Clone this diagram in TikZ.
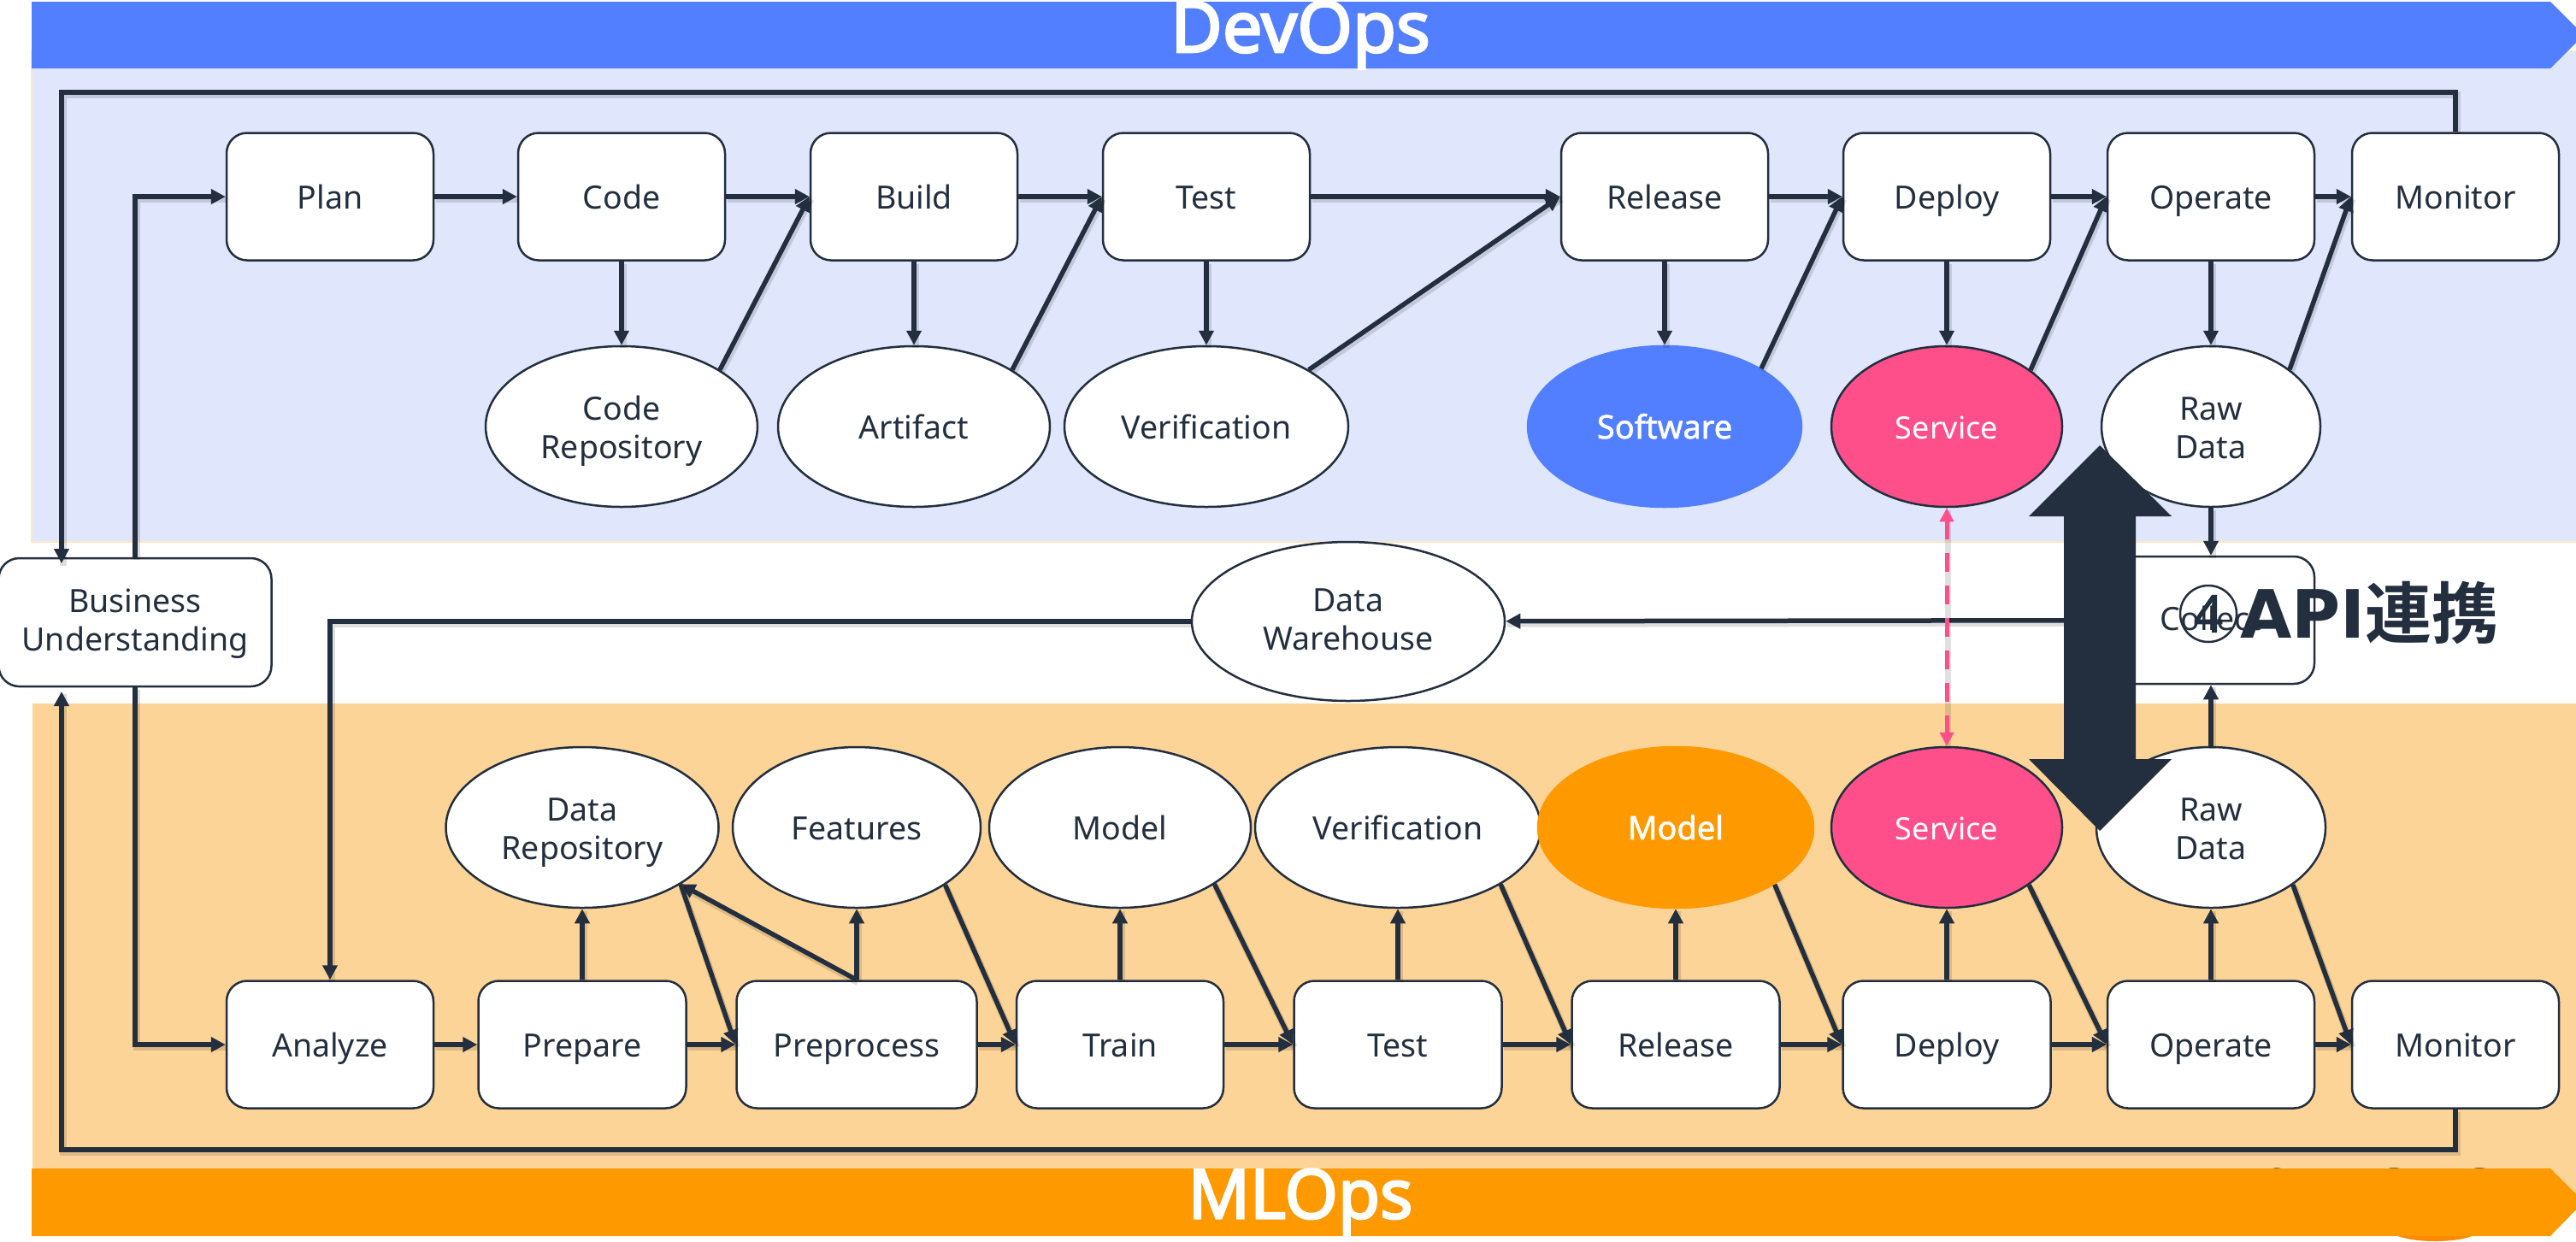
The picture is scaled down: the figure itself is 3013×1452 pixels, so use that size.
\documentclass[tikz,border=0pt]{standalone}
\usepackage{fontspec}
\setmainfont{Noto Sans}
\newfontfamily\nsb{Noto Sans}[FakeBold=1.6]
\newfontfamily\nsbb{Noto Sans}[FakeBold=3]
\newfontfamily\cjkf[BoldFont=Noto Sans CJK JP Bold]{Noto Sans CJK JP}
\newfontfamily\apif{DejaVu Sans}
\usetikzlibrary{arrows.meta,shapes.geometric}
\definecolor{ink}{HTML}{232F3E}
\definecolor{awsblue}{HTML}{527FFF}
\definecolor{awsorange}{HTML}{FF9900}
\definecolor{awspink}{HTML}{FF4F8B}
\definecolor{bandblue}{HTML}{E0E7FD}
\definecolor{bandorange}{HTML}{FDD497}
\newcommand\tsa{\rule{0pt}{40pt}}
\newcommand\tsc{\rule{0pt}{86pt}}
\newcommand\tsd{\rule{0pt}{83pt}}
\newcommand\tsb{\rule[-12pt]{0pt}{12pt}}
\newcommand\tsup{\rule[-17pt]{0pt}{17pt}}
\tikzset{
  x=1pt,y=-1pt,
  lbl/.style={font=\fontsize{37.5}{45}\selectfont,text=ink,align=center,inner sep=0pt,execute at begin node=\tsa,execute at end node=\tsb},
  twolines/.style={execute at begin node=\tsc},
  twolinesup/.style={execute at begin node=\tsd,execute at end node=\tsup},
  boxn/.style={lbl,draw=ink,line width=2.5pt,fill=white,rounded corners=24pt,minimum width=242pt,minimum height=149pt},
  ell/.style={lbl,ellipse,draw=ink,line width=2.5pt,fill=white,minimum height=188pt},
  conn/.style={draw=ink,line width=5.5pt,line join=miter,-{Triangle[length=17pt,width=17pt]},shorten >=0pt,
    preaction={draw=black,draw opacity=.13,line width=8pt,-,transform canvas={xshift=1.5pt,yshift=-3pt}}},
  pinkconn/.style={draw=awspink,line width=5pt,dash pattern=on 22pt off 16pt,{Triangle[length=16pt,width=16pt]}-{Triangle[length=16pt,width=16pt]},
    preaction={draw=black,draw opacity=.12,line width=7pt,-,transform canvas={xshift=1pt,yshift=-3pt}}},
  title/.style={text=white,inner sep=0pt},
}
\begin{document}
\begin{tikzpicture}
\useasboundingbox (0,0) rectangle (3013,1452);
\clip (0,0) rectangle (3013,1452);
% bands
\fill[bandblue,draw=bandorange!55,line width=2pt] (37,60) rectangle (3030,634);
\fill[bandorange] (38,823) rectangle (3030,1416);
\fill[awsorange!90!red] (2848,1440) ellipse (50 and 12);
\fill[ink!70!bandorange] (2663,1373) ellipse (10 and 7);
\fill[ink!70!bandorange] (2800,1373) ellipse (14 and 7);
\fill[ink!70!bandorange] (2900,1373) ellipse (14 and 7);
% banners
\fill[awsblue] (37,2) -- (2983,2) -- (3022,41) -- (2983,80) -- (37,80) -- cycle;
\fill[awsorange] (37,1367) -- (2983,1367) -- (3022,1406) -- (2983,1446) -- (37,1446) -- cycle;
\node[title,font=\nsbb\fontsize{83}{95}\selectfont] (devops) at (1521,41) {DevOps};
\node[title,font=\nsbb\fontsize{80}{95}\selectfont] (mlops) at (1521,1406) {MLOps};
% top row
\foreach \n/\t/\x in {plan/Plan/386,code/Code/727,build/Build/1069,test/Test/1411,release/Release/1947,deploy/Deploy/2277,operate/Operate/2586,monitor/Monitor/2872}
  \node[boxn] (\n) at (\x,230) {\t};
% top ellipses
\node[ell,twolines,minimum width=318pt] (coderepo) at (727,499) {Code\\Repository};
\node[ell,minimum width=318pt] (artifact) at (1069,499) {Artifact};
\node[ell,minimum width=332pt] (verif) at (1411,499) {Verification};
\node[ell,minimum width=320pt,fill=awsblue,draw=awsblue,text=white,font=\nsb\fontsize{38}{45}\selectfont] (software) at (1947,499) {Software};
\node[ell,minimum width=270pt,fill=awspink,text=white,font=\fontsize{36}{45}\selectfont] (service) at (2277,499) {Service};
\node[ell,twolines,minimum width=256pt] (raw) at (2586,499) {Raw\\Data};
% middle
\node[boxn,twolinesup,minimum width=319pt,minimum height=150pt] (bu) at (158,728) {Business\\Understanding};
\node[boxn,minimum height=149pt,execute at end node=\tsup] (collect) at (2586,725.5) {Collect};
\node[ell,twolinesup,minimum width=366pt,minimum height=186pt] (dw) at (1577,727) {Data\\Warehouse};
% bottom row
\foreach \n/\t/\x/\w in {analyze/Analyze/386/242,prepare/Prepare/681/243,preprocess/Preprocess/1002/281,train/Train/1310/242,mtest/Test/1635/243,mrelease/Release/1960/243,mdeploy/Deploy/2277/243,moperate/Operate/2586/242,mmonitor/Monitor/2872/242}
  \node[boxn,minimum width=\w pt] (\n) at (\x,1222) {\t};
% bottom ellipses
\node[ell,twolines,minimum width=319pt] (datarepo) at (681,968) {Data\\Repository};
\node[ell,minimum width=290pt] (features) at (1002,968) {Features};
\node[ell,minimum width=306pt] (model) at (1310,968) {Model};
\node[ell,minimum width=334pt] (mverif) at (1635,968) {Verification};
\node[ell,minimum width=322pt,fill=awsorange,draw=awsorange,text=white,font=\nsb\fontsize{38}{45}\selectfont] (mmodel) at (1960,968) {Model};
\node[ell,minimum width=270pt,fill=awspink,text=white,font=\fontsize{36}{45}\selectfont] (mservice) at (2277,968) {Service};
\node[ell,twolines,minimum width=268pt] (mraw) at (2586,968) {Raw\\Data};
% top connectors
\draw[conn] (plan) -- (code);
\draw[conn] (code) -- (build);
\draw[conn] (build) -- (test);
\draw[conn] (test) -- (release);
\draw[conn] (release) -- (deploy);
\draw[conn] (deploy) -- (operate);
\draw[conn] (operate) -- (monitor);
\draw[conn] (code) -- (coderepo);
\draw[conn] (build) -- (artifact);
\draw[conn] (test) -- (verif);
\draw[conn] (release) -- (software);
\draw[conn] (deploy) -- (service);
\draw[conn] (operate) -- (raw);
\draw[conn] (coderepo.30.7) -- (build.west);
\draw[conn] (artifact.30.7) -- (test.west);
\draw[conn] (verif.29.8) -- (release.west);
\draw[conn] (software.31.1) -- (deploy.west);
\draw[conn] (service.34.9) -- (operate.west);
\draw[conn] (raw.36.4) -- (monitor.west);
% feedback
\coordinate (fbtr) at (2872,108);
\coordinate (fbtl) at (72,108);
\coordinate (fbbr) at (2872,1345);
\coordinate (fbbl) at (72,1345);
\coordinate (fbtt) at (72,659);
\coordinate (fbbt) at (72,809);
\draw[conn] (monitor.north) -- (fbtr) -- (fbtl) -- (fbtt);
\draw[conn] (mmonitor.south) -- (fbbr) -- (fbbl) -- (fbbt);
\draw[conn] (bu.north) |- (plan.west);
\draw[conn] (bu.south) |- (analyze.west);
% middle connectors
\draw[conn] (raw) -- (collect);
\draw[conn] (mraw) -- (collect);
\draw[conn] (collect) -- (dw);
\draw[conn] (dw.west) -| (analyze.north);
\draw[pinkconn] (service) -- (mservice);
% bottom connectors
\draw[conn] (analyze) -- (prepare);
\draw[conn] (prepare) -- (preprocess);
\draw[conn] (preprocess) -- (train);
\draw[conn] (train) -- (mtest);
\draw[conn] (mtest) -- (mrelease);
\draw[conn] (mrelease) -- (mdeploy);
\draw[conn] (mdeploy) -- (moperate);
\draw[conn] (moperate) -- (mmonitor);
\draw[conn] (prepare) -- (datarepo);
\draw[conn] (preprocess) -- (features);
\draw[conn] (train) -- (model);
\draw[conn] (mtest) -- (mverif);
\draw[conn] (mrelease) -- (mmodel);
\draw[conn] (mdeploy) -- (mservice);
\draw[conn] (moperate) -- (mraw);
\draw[conn] (preprocess.north) -- (datarepo.-30.9);
\draw[conn] (datarepo.-30.9) -- (preprocess.west);
\draw[conn] (features.-33) -- (train.west);
\draw[conn] (model.-31.8) -- (mtest.west);
\draw[conn] (mverif.-29.8) -- (mrelease.west);
\draw[conn] (mmodel.-30.9) -- (mdeploy.west);
\draw[conn] (mservice.-35.5) -- (moperate.west);
\draw[conn] (mraw.-35.5) -- (mmonitor.west);
% API callout
\fill[ink] (2456,521) -- (2540,604) -- (2498,604) -- (2498,888) -- (2540,888) -- (2456,972) -- (2373,888) -- (2414,888) -- (2414,604) -- (2373,604) -- cycle;
\node[circle,draw=ink,line width=2.5pt,minimum size=66pt,inner sep=0pt,font=\nsb\fontsize{60}{60}\selectfont,text=ink] (four) at (2583,718) {4};
\node[font=\fontsize{78}{80}\selectfont\bfseries,text=ink,inner sep=0pt,anchor=west] (api) at (2620,717) {\apif API\cjkf 連携};
\end{tikzpicture}
\end{document}
